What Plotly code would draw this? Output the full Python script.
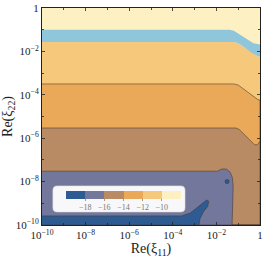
import plotly.graph_objects as go

# ---- data: contour boundaries as (log10 Re xi11, log10 Re xi22) ----
blue_top_lx = [-10, -1.4, -1.2, -1.0, -0.6, -0.3, 0]
blue_top_ly = [-1.0, -1.0, -1.05, -1.18, -1.45, -1.62, -1.68]
blue_bot_lx = [-10, -1.2, -1.0, -0.8, -0.4, -0.1, 0]
blue_bot_ly = [-1.57, -1.57, -1.62, -1.75, -2.05, -2.22, -2.25]
c12_lx = [-10, -1.2, -1.0, -0.8, -0.4, -0.1, 0]
c12_ly = [-3.5, -3.5, -3.55, -3.7, -4.0, -4.22, -4.24]
c14_lx = [-10, -1.1, -0.95, -0.7, -0.45, -0.25, -0.12, 0]
c14_ly = [-5.53, -5.53, -5.6, -5.85, -6.1, -6.3, -6.3, -6.15]
c16_lx = [-10, -1.95, -1.75, -1.55, -1.38, -1.27, -1.23, -1.24, -1.28]
c16_ly = [-7.52, -7.52, -7.42, -7.42, -7.55, -7.8, -8.2, -9.0, -10]
c18_lx = [-10, -3.6, -3.2, -2.9, -2.65, -2.45, -2.35, -2.4, -2.6, -2.75, -2.8]
c18_ly = [-9.58, -9.58, -9.45, -9.2, -9.0, -8.85, -8.9, -9.15, -9.4, -9.7, -10]
dot_lx = [-1.51]
dot_ly = [-8.0]

levels = [-20, -18, -16, -14, -12, -10, -8]
level_colors = ["#2e5c92", "#72779b", "#b98b65", "#e9a958", "#f6c87c", "#fdf0c2"]
band_color = "#8fc6dc"

x_tickvals = [1e-10, 1e-8, 1e-6, 1e-4, 1e-2, 1]
x_ticktext = ["10<sup>−10</sup>", "10<sup>−8</sup>", "10<sup>−6</sup>",
              "10<sup>−4</sup>", "10<sup>−2</sup>", "1"]
y_tickvals = [1e-10, 1e-8, 1e-6, 1e-4, 1e-2, 1]
y_ticktext = x_ticktext
minor_vals = [1e-9, 1e-7, 1e-5, 1e-3, 1e-1]
cb_ticks = [-18, -16, -14, -12, -10]
cb_ticktext = ["−18", "−16", "−14", "−12", "−10"]


def p(v):
    return [10 ** t for t in v]


LINE = dict(color="rgba(70,55,45,0.7)", width=0.8)
fig = go.Figure()


def region_below(lx, ly, color, line=LINE):
    xs = p(lx) + [1, 1e-10]
    ys = p(ly) + [1e-10, 1e-10]
    fig.add_trace(go.Scatter(x=xs, y=ys, mode="lines", fill="toself",
                             fillcolor=color, line=line, hoverinfo="skip",
                             showlegend=False))


region_below(blue_bot_lx, blue_bot_ly, level_colors[4], dict(width=0, color=level_colors[4]))
region_below(c12_lx, c12_ly, level_colors[3])
region_below(c14_lx, c14_ly, level_colors[2])
region_below(c16_lx, c16_ly, level_colors[1])
fig.add_trace(go.Scatter(x=p(c18_lx) + [1e-10], y=p(c18_ly) + [1e-10], mode="lines",
                         fill="toself", fillcolor=level_colors[0], line=LINE,
                         hoverinfo="skip", showlegend=False))
fig.add_trace(go.Scatter(x=p(dot_lx), y=p(dot_ly), mode="markers",
                         marker=dict(size=4, color=level_colors[0],
                                     line=dict(color="rgba(40,40,60,0.8)", width=0.6)),
                         hoverinfo="skip", showlegend=False))
bx = p(blue_top_lx) + p(blue_bot_lx)[::-1]
by = p(blue_top_ly) + p(blue_bot_ly)[::-1]
fig.add_trace(go.Scatter(x=bx, y=by, mode="lines", fill="toself", fillcolor=band_color,
                         line=dict(width=0, color=band_color), hoverinfo="skip",
                         showlegend=False))

cs = []
n = len(level_colors)
for i, c in enumerate(level_colors):
    cs.append([i / n, c])
    cs.append([(i + 1) / n, c])
fig.add_trace(go.Scatter(
    x=[None], y=[None], mode="markers", showlegend=False, hoverinfo="skip",
    marker=dict(color=[levels[0]], cmin=levels[0], cmax=levels[-1], colorscale=cs,
                showscale=True,
                colorbar=dict(orientation="h", x=0.374, xanchor="center",
                              y=0.157, yanchor="top", len=0.528, lenmode="fraction",
                              thickness=8, outlinewidth=0, ypad=0, xpad=0,
                              tickvals=cb_ticks, ticktext=cb_ticktext,
                              ticks="outside", ticklen=2, tickcolor="#999",
                              tickfont=dict(size=8, color="#777",
                                            family="Liberation Serif")))))

axis_common = dict(type="log", range=[-10, 0], showgrid=False, zeroline=False,
                   automargin=False,
                   ticks="inside", ticklen=3, tickwidth=0.8, tickcolor="#222",
                   mirror="allticks", showline=True, linecolor="#222", linewidth=1,
                   tickfont=dict(size=11, family="Liberation Serif", color="#222"),
                   minor=dict(tickvals=minor_vals, ticks="inside", ticklen=2,
                              tickcolor="#222"))

fig.update_layout(
    width=266, height=259,
    margin=dict(l=42, r=6, t=8, b=34, autoexpand=False),
    plot_bgcolor=level_colors[5], paper_bgcolor="white",
    hovermode=False,
    xaxis=dict(axis_common, tickvals=x_tickvals, ticktext=x_ticktext,
               title=dict(text="Re(ξ<sub>11</sub>)", standoff=0,
                          font=dict(size=14, family="Liberation Serif", color="#222"))),
    yaxis=dict(axis_common, tickvals=y_tickvals, ticktext=y_ticktext,
               title=dict(text="Re(ξ<sub>22</sub>)", standoff=4,
                          font=dict(size=14, family="Liberation Serif", color="#222"))),
    shapes=[dict(type="path", xref="paper", yref="paper", layer="above",
                 path="M 0.07,0.06 L 0.636,0.06 Q 0.656,0.06 0.656,0.08 L 0.656,0.16 "
                      "Q 0.656,0.18 0.636,0.18 L 0.07,0.18 Q 0.05,0.18 0.05,0.16 "
                      "L 0.05,0.08 Q 0.05,0.06 0.07,0.06 Z",
                 fillcolor="rgba(255,255,255,0.95)", line=dict(color="#ddd", width=0.6))],
)

fig.write_html("out.html",
               config={"displayModeBar": False, "staticPlot": True},
               post_script="document.body.style.margin='0';"
                           "document.body.style.overflow='hidden';")
